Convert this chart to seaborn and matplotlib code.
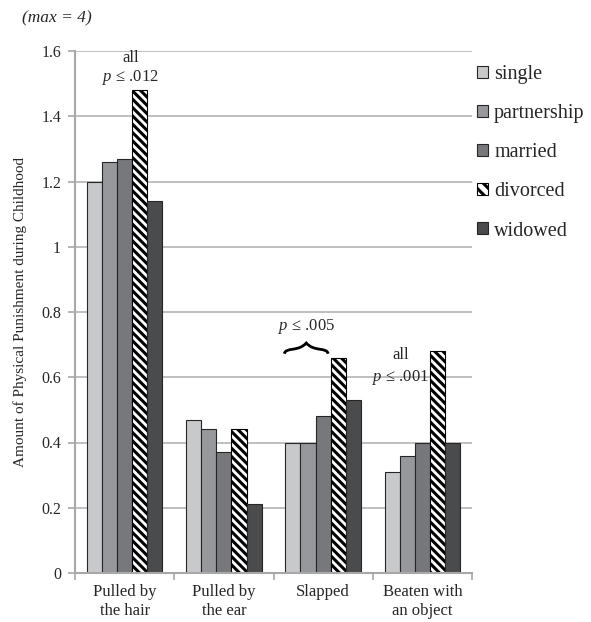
import matplotlib
matplotlib.use("Agg")
import matplotlib.pyplot as plt
from matplotlib.patches import Patch
from matplotlib.path import Path
from matplotlib.patches import PathPatch
import seaborn as sns
import pandas as pd

categories = ["Pulled by\nthe hair", "Pulled by\nthe ear", "Slapped", "Beaten with\nan object"]
statuses = ["single", "partnership", "married", "divorced", "widowed"]
single = [1.20, 0.47, 0.40, 0.31]
partnership = [1.26, 0.44, 0.40, 0.36]
married = [1.27, 0.37, 0.48, 0.40]
divorced = [1.48, 0.44, 0.66, 0.68]
widowed = [1.14, 0.21, 0.53, 0.40]
yticks = [0, 0.2, 0.4, 0.6, 0.8, 1, 1.2, 1.4, 1.6]
ytick_labels = ["0", "0.2", "0.4", "0.6", "0.8", "1", "1.2", "1.4", "1.6"]

colors = {"single": "#c8c9cb", "partnership": "#97989b", "married": "#77787b",
          "divorced": "#ffffff", "widowed": "#4a4b4d"}

series = [single, partnership, married, divorced, widowed]
rows = []
for s, vals in zip(statuses, series):
    for c, v in zip(categories, vals):
        rows.append({"category": c, "status": s, "value": v})
df = pd.DataFrame(rows)

sns.set_style("white")
plt.rcParams["font.family"] = "serif"
plt.rcParams["font.serif"] = ["Liberation Serif", "DejaVu Serif"]
plt.rcParams["mathtext.fontset"] = "custom"
plt.rcParams["mathtext.it"] = "Liberation Serif:italic"
plt.rcParams["mathtext.rm"] = "Liberation Serif"
plt.rcParams["hatch.linewidth"] = 2.2
plt.rcParams["hatch.color"] = "black"

fig = plt.figure(figsize=(5.91, 6.22), dpi=100)
ax = fig.add_axes([75 / 591, 1 - 573 / 622, (472 - 75) / 591, (573 - 51) / 622])

sns.barplot(data=df, x="category", y="value", hue="status", hue_order=statuses,
            order=categories, palette=colors, width=0.76, saturation=1,
            edgecolor="#262626", linewidth=0.8, ax=ax, legend=False)

for bar in ax.containers[3]:
    bar.set_hatch("\\\\\\\\")
    bar.set_facecolor("white")
    bar.set_edgecolor("black")

ax.set_ylim(0, 1.6)
ax.set_xlim(-0.5, 3.5)
ax.set_yticks(yticks)
ax.set_yticklabels(ytick_labels)
ax.yaxis.grid(True, color="#b4b4b4", linewidth=1.2)
ax.set_axisbelow(True)
for sp in ["top", "right"]:
    ax.spines[sp].set_visible(False)
for sp in ["left", "bottom"]:
    ax.spines[sp].set_color("#a8a8a8")
    ax.spines[sp].set_linewidth(1.5)
ax.tick_params(axis="y", length=5, color="#a8a8a8", width=1.2, labelsize=11.5, pad=5, left=True)
ax.set_xticks(range(4))
ax.set_xticklabels(categories)
ax.tick_params(axis="x", length=0, labelsize=12, pad=8)
ax.set_xticks([-0.5, 0.5, 1.5, 2.5, 3.5], minor=True)
ax.tick_params(axis="x", which="minor", length=5, color="#a8a8a8", width=1.2, bottom=True)
ax.set_xlabel("")
ax.set_ylabel("Amount of Physical Punishment during Childhood", fontsize=11, labelpad=10)

# annotations
ax.text(0.06, 1.58, "all", ha="center", va="center", fontsize=12)
ax.text(0.06, 1.52, "$p$ ≤ .012", ha="center", va="center", fontsize=12)
ax.text(1.83, 0.755, "$p$ ≤ .005", ha="center", va="center", fontsize=12)
ax.text(2.78, 0.668, "all", ha="center", va="center", fontsize=12)
ax.text(2.78, 0.600, "$p$ ≤ .001", ha="center", va="center", fontsize=12)

# curly brace over slapped single..married
x0, x1 = 1.61, 2.05
xm = (x0 + x1) / 2
yb, yt = 0.672, 0.705
verts = [(x0, yb), (x0 + 0.01, yt - 0.012), (xm - 0.08, yb + 0.005), (xm, yt),
         (xm + 0.08, yb + 0.005), (x1 - 0.01, yt - 0.012), (x1, yb)]
codes = [Path.MOVETO, Path.CURVE4, Path.CURVE4, Path.CURVE4, Path.CURVE4, Path.CURVE4, Path.CURVE4]
ax.add_patch(PathPatch(Path(verts, codes), facecolor="none", edgecolor="black", lw=2.0))

fig.text(22 / 591, 1 - 18 / 622, "(max = 4)", fontsize=12.5, style="italic",
         ha="left", va="center")

handles = []
for s in statuses:
    if s == "divorced":
        handles.append(Patch(facecolor="white", edgecolor="black", hatch="\\\\\\", linewidth=0.8))
    else:
        handles.append(Patch(facecolor=colors[s], edgecolor="#262626", linewidth=0.8))
fig.legend(handles, statuses, loc="upper left", bbox_to_anchor=(477 / 591, 1 - 65 / 622),
           frameon=False, fontsize=14.5, handlelength=0.55, handleheight=0.55,
           handletextpad=0.3, labelspacing=1.0, borderpad=0, borderaxespad=0)

fig.savefig("out.png", dpi=100)
